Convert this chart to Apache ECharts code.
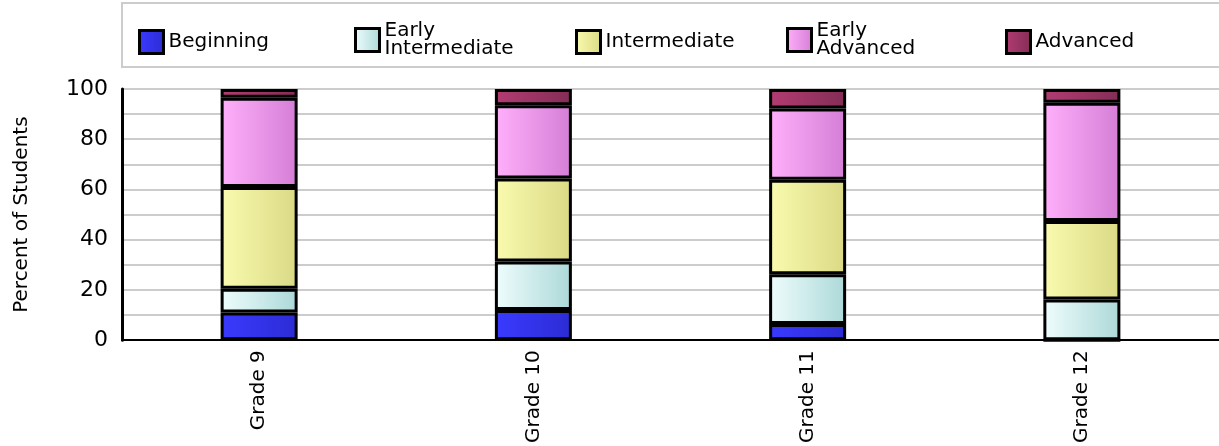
<!DOCTYPE html>
<html>
<head>
<meta charset="utf-8">
<script src="https://cdn.jsdelivr.net/npm/echarts@6/dist/echarts.min.js"></script>
<style>
  html, body { margin: 0; padding: 0; background: #fff; }
  #chart { width: 1219px; height: 446px; }
</style>
</head>
<body>
<div id="chart"></div>
<script>
// Data
const grades = ["Grade 9", "Grade 10", "Grade 11", "Grade 12"];
const beginning = [11, 12, 6.5, 0];
const earlyIntermediate = [9.5, 19.3, 19.8, 16.2];
const intermediate = [40.5, 33.1, 37.6, 31.3];
const earlyAdvanced = [35.5, 29.1, 28.3, 47];
const advanced = [3.5, 6.5, 7.8, 5.5];
const yTicks = [0, 20, 40, 60, 80, 100];

const FONT = "DejaVu Sans";

// horizontal gradients, light on the left
const levels = [
  { name: "Beginning", label: "Beginning", data: beginning, c: ["#3a3aff", "#2c2cd4"] },
  { name: "Early Intermediate", label: "Early\nIntermediate", data: earlyIntermediate, c: ["#effdfd", "#acd8d8"] },
  { name: "Intermediate", label: "Intermediate", data: intermediate, c: ["#fbfbb0", "#d9d985"] },
  { name: "Early Advanced", label: "Early\nAdvanced", data: earlyAdvanced, c: ["#ffb0fb", "#d47ed6"] },
  { name: "Advanced", label: "Advanced", data: advanced, c: ["#b23c72", "#832d56"] },
];

const legendLeft = [133, 349, 570, 781, 1000];

const grad = (c) =>
  new echarts.graphic.LinearGradient(0, 0, 1, 0, [
    { offset: 0, color: c[0] },
    { offset: 1, color: c[1] },
  ]);

const chart = echarts.init(document.getElementById("chart"));

chart.setOption({
  animation: false,
  textStyle: { fontFamily: FONT },
  graphic: [
    {
      type: "rect",
      shape: { x: 122, y: 3, width: 1110, height: 64 },
      style: { fill: "none", stroke: "#cccccc", lineWidth: 2 },
      silent: true,
    },
  ],
  legend: levels.map((l, i) => ({
    data: [l.name],
    left: legendLeft[i],
    top: l.label.includes("\n") ? 16 : 24,
    icon: "rect",
    itemWidth: 24,
    itemHeight: 23,
    itemGap: 0,
    selectedMode: false,
    formatter: () => l.label,
    itemStyle: { borderColor: "#000", borderWidth: 3 },
    textStyle: { fontFamily: FONT, fontSize: 20, color: "#000", lineHeight: 18, padding: [0, 0, 0, 0] },
  })),
  grid: { left: 122, right: -7, top: 89, bottom: 105, containLabel: false },
  xAxis: {
    type: "category",
    data: grades,
    axisLine: { lineStyle: { color: "#000", width: 2 } },
    axisTick: { show: false },
    axisLabel: { rotate: 90, color: "#000", fontSize: 20, margin: 10, fontFamily: FONT },
  },
  yAxis: {
    type: "value",
    min: 0,
    max: 100,
    interval: 20,
    name: "Percent of Students",
    nameLocation: "middle",
    nameGap: 90,
    nameTextStyle: { color: "#000", fontSize: 20, fontFamily: FONT },
    axisLine: { show: true, lineStyle: { color: "#000", width: 3 } },
    axisTick: { show: false },
    axisLabel: {
      color: "#000",
      fontSize: 22,
      margin: 14,
      fontFamily: FONT,
      formatter: (v) => (yTicks.includes(v) ? String(v) : ""),
    },
    splitLine: { lineStyle: { color: "#cccccc", width: 2 } },
    minorTick: { show: false, splitNumber: 2 },
    minorSplitLine: { show: true, lineStyle: { color: "#cccccc", width: 2 } },
  },
  series: levels.map((l) => ({
    name: l.name,
    type: "bar",
    stack: "total",
    barWidth: 77,
    data: l.data,
    itemStyle: { color: grad(l.c), borderColor: "#000", borderWidth: 3 },
  })),
});
</script>
</body>
</html>
